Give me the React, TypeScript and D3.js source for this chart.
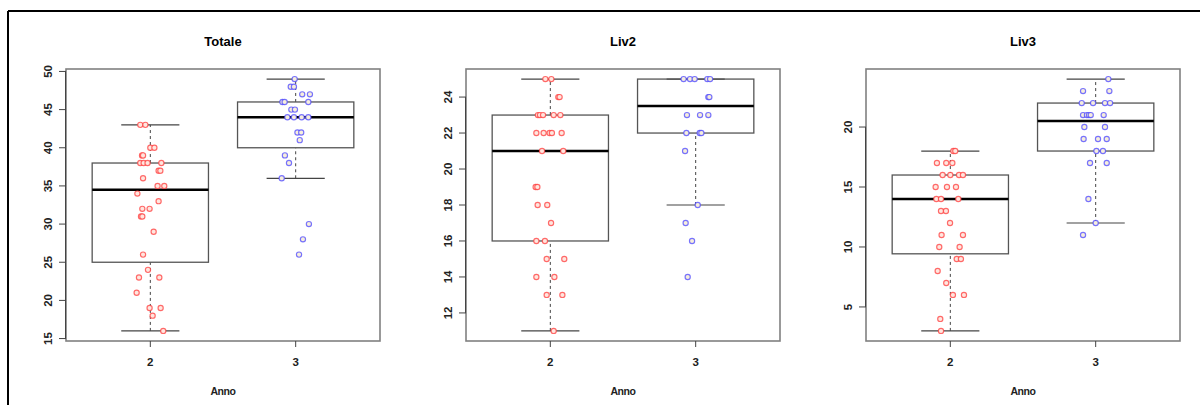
import React from "react";
import * as d3 from "d3";

// ---- data ----
const panelTitles = ["Totale", "Liv2", "Liv3"];
const groups = [2, 3];
const xLabel = "Anno";

// box stats: [lower whisker, Q1, median, Q3, upper whisker]
const totaleBox = [
  [16, 25, 34.5, 38, 43],
  [36, 40, 44, 46, 49],
];
const liv2Box = [
  [11, 16, 21, 23, 25],
  [18, 22, 23.5, 25, 25],
];
const liv3Box = [
  [3, 9.43, 14, 16, 18],
  [12, 18, 20.5, 22, 24],
];

// points: [value, jitter offset in group units]
const totale2: [number, number][] = [
  [43, -0.069], [43, -0.034], [40, 0.0], [40, 0.028], [39, -0.057], [39, -0.05],
  [38, -0.069], [38, -0.046], [38, -0.019], [38, 0.076], [37, 0.057], [37, 0.069],
  [36, -0.05], [35, 0.05], [35, 0.096], [34, -0.089], [33, 0.057], [32, -0.055],
  [32, -0.005], [31, -0.064], [31, -0.055], [29, 0.023], [26, -0.05], [24, -0.016],
  [23, -0.078], [23, 0.062], [21, -0.094], [19, -0.005], [19, 0.071], [18, 0.016],
  [16, 0.089],
];
const totale3: [number, number][] = [
  [49, -0.007], [48, -0.034], [48, -0.012], [47, 0.045], [47, 0.098], [46, -0.091],
  [46, -0.076], [46, 0.087], [45, -0.03], [45, -0.005], [44, -0.057], [44, -0.012],
  [44, 0.041], [44, 0.087], [42, 0.012], [42, 0.038], [41, 0.028], [39, -0.074],
  [38, -0.046], [36, -0.096], [30, 0.091], [28, 0.05], [26, 0.023],
];
const liv2_2: [number, number][] = [
  [25, -0.034], [25, 0.007], [24, 0.055], [24, 0.064], [23, -0.085], [23, -0.071],
  [23, -0.05], [23, 0.023], [23, 0.069], [22, -0.096], [22, -0.046], [22, -0.005],
  [22, 0.011], [22, 0.078], [21, -0.057], [21, 0.089], [19, -0.101], [19, -0.089],
  [18, -0.087], [18, -0.021], [17, 0.005], [16, -0.096], [16, -0.037], [15, -0.025],
  [15, 0.096], [14, -0.096], [14, 0.028], [13, -0.025], [13, 0.083], [11, 0.023],
];
const liv2_3: [number, number][] = [
  [25, -0.083], [25, -0.039], [25, -0.007], [25, 0.08], [25, 0.099], [24, 0.087],
  [24, 0.094], [23, -0.06], [23, 0.03], [23, 0.087], [22, -0.064], [22, 0.028],
  [22, 0.039], [21, -0.073], [18, 0.014], [17, -0.069], [16, -0.025], [14, -0.055],
];
const liv3_2: [number, number][] = [
  [18, 0.021], [18, 0.034], [17, -0.092], [17, -0.028], [17, 0.014], [16, -0.053],
  [16, 0.0], [16, 0.06], [16, 0.087], [15, -0.101], [15, -0.023], [15, 0.039],
  [14, -0.096], [14, -0.064], [14, 0.055], [13, -0.064], [13, -0.03], [12, -0.002],
  [11, -0.06], [11, 0.087], [10, -0.076], [10, 0.064], [9, 0.044], [9, 0.073],
  [8, -0.087], [7, -0.028], [6, 0.018], [6, 0.094], [4, -0.069], [3, -0.064],
];
const liv3_3: [number, number][] = [
  [24, 0.087], [23, -0.087], [23, 0.094], [22, -0.096], [22, -0.018], [22, 0.064],
  [22, 0.099], [21, -0.087], [21, -0.06], [21, -0.046], [21, -0.034], [21, 0.055],
  [20, -0.078], [20, 0.064], [19, -0.083], [19, 0.016], [19, 0.076], [18, 0.005],
  [18, 0.05], [17, -0.039], [17, 0.076], [14, -0.05], [12, 0.0], [11, -0.087],
];

const totaleTicks = [15, 20, 25, 30, 35, 40, 45, 50];
const liv2Ticks = [12, 14, 16, 18, 20, 22, 24];
const liv3Ticks = [5, 10, 15, 20];

const panelBoxes = [totaleBox, liv2Box, liv3Box];
const panelPoints = [
  [totale2, totale3],
  [liv2_2, liv2_3],
  [liv3_2, liv3_3],
];
const panelTicks = [totaleTicks, liv2Ticks, liv3Ticks];

// ---- styling ----
const FONT = "'Liberation Sans', Arial, Helvetica, sans-serif";
const pointStroke = ["#ff3b3b", "#4b46ff"];
const pointFill = ["#ffe6df", "#f6eedb"];

function Panel({ idx }: { idx: number }) {
  const left = 66 + idx * 400;
  const right = left + 314;
  const top = 69;
  const bottom = 341;
  const boxes = panelBoxes[idx];
  const pts = panelPoints[idx];
  const ticks = panelTicks[idx];

  const allVals = pts.flat().map((p) => p[0]);
  const [mn, mx] = d3.extent(allVals) as [number, number];
  const ext = (mx - mn) * 0.04;
  const y = d3.scaleLinear().domain([mn - ext, mx + ext]).range([bottom, top]);
  const x = d3.scaleLinear().domain([1.42, 3.58]).range([left, right]);

  const cx = (left + right) / 2;

  return (
    <g>
      <text x={cx} y={46} textAnchor="middle" fontFamily={FONT} fontWeight="bold" fontSize={13}>
        {panelTitles[idx]}
      </text>
      {/* boxes */}
      {boxes.map((b, gi) => {
        const g = groups[gi];
        const x0 = x(g - 0.4);
        const x1 = x(g + 0.4);
        const c0 = x(g - 0.2);
        const c1 = x(g + 0.2);
        const xc = x(g);
        return (
          <g key={gi}>
            <line x1={xc} x2={xc} y1={y(b[0])} y2={y(b[1])} stroke="#444" strokeWidth={1} strokeDasharray="3,3" />
            <line x1={xc} x2={xc} y1={y(b[3])} y2={y(b[4])} stroke="#444" strokeWidth={1} strokeDasharray="3,3" />
            <line x1={c0} x2={c1} y1={y(b[0])} y2={y(b[0])} stroke="#444" strokeWidth={1.2} />
            <line x1={c0} x2={c1} y1={y(b[4])} y2={y(b[4])} stroke="#444" strokeWidth={1.2} />
            <rect x={x0} y={y(b[3])} width={x1 - x0} height={y(b[1]) - y(b[3])} fill="none" stroke="#555" strokeWidth={1.3} />
            <line x1={x0} x2={x1} y1={y(b[2])} y2={y(b[2])} stroke="#000" strokeWidth={2.6} />
          </g>
        );
      })}
      {/* points */}
      {pts.map((arr, gi) =>
        arr.map((p, i) => (
          <circle
            key={gi + "-" + i}
            cx={x(groups[gi] + p[1])}
            cy={y(p[0])}
            r={2.6}
            fill={pointFill[gi]}
            stroke={pointStroke[gi]}
            strokeOpacity={0.75}
            strokeWidth={1.15}
          />
        ))
      )}
      {/* frame */}
      <rect x={left} y={top} width={right - left} height={bottom - top} fill="none" stroke="#808080" strokeWidth={1.6} />
      {/* y axis */}
      <line x1={left - 0.5} x2={left - 0.5} y1={y(ticks[0])} y2={y(ticks[ticks.length - 1])} stroke="#444" strokeWidth={1} />
      {ticks.map((t) => (
        <g key={t}>
          <line x1={left - 7} x2={left} y1={y(t)} y2={y(t)} stroke="#444" strokeWidth={1} />
          <text
            transform={`translate(${left - 17},${y(t)}) rotate(-90)`}
            textAnchor="middle"
            dominantBaseline="middle"
            fontFamily={FONT}
            fontWeight="bold"
            fontSize={11.5}
            fill="#222"
          >
            {t}
          </text>
        </g>
      ))}
      {/* x axis */}
      {groups.map((g) => (
        <g key={g}>
          <line x1={x(g)} x2={x(g)} y1={bottom} y2={bottom + 6} stroke="#444" strokeWidth={1} />
          <text x={x(g)} y={366} textAnchor="middle" fontFamily={FONT} fontWeight="bold" fontSize={11.5} fill="#222">
            {g}
          </text>
        </g>
      ))}
      <text x={cx} y={395} textAnchor="middle" fontFamily={FONT} fontWeight="bold" fontSize={10.5} fill="#222" letterSpacing={-0.4}>
        {xLabel}
      </text>
    </g>
  );
}

export default function App() {
  return (
    <svg
      width={1200}
      height={405}
      viewBox="0 0 1200 405"
      style={{ position: "absolute", left: 0, top: 0, background: "#fff" }}
    >
      <rect x={0} y={0} width={1200} height={405} fill="#fff" />
      <line x1={8} x2={1200} y1={11} y2={11} stroke="#000" strokeWidth={2} />
      <line x1={8} x2={8} y1={11} y2={405} stroke="#000" strokeWidth={2} />
      {[0, 1, 2].map((i) => (
        <Panel key={i} idx={i} />
      ))}
    </svg>
  );
}
